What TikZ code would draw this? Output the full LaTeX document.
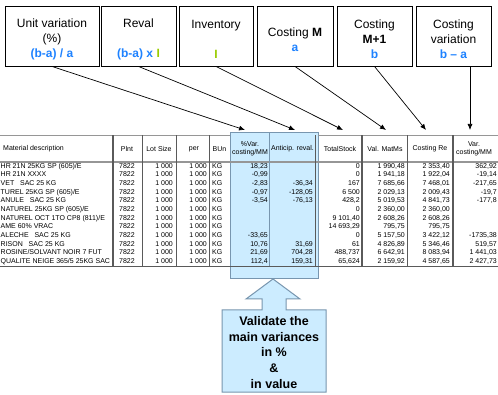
\documentclass[tikz,border=0pt]{standalone}
\usepackage{fontspec}
\setmainfont{Liberation Sans}
\usetikzlibrary{arrows.meta}
\definecolor{myblue}{RGB}{30,130,255}
\definecolor{mygreen}{RGB}{153,204,0}
\definecolor{hlfill}{RGB}{204,236,255}
\definecolor{hlborder}{RGB}{120,150,175}
\definecolor{gridgray}{RGB}{90,90,90}
\definecolor{rulegray}{RGB}{150,150,150}
\tikzset{
  topbox/.style={draw=black, line width=0.9pt, inner sep=0pt, minimum height=60pt},
  toplabel/.style={inner sep=0pt, align=center, yshift=-3.5pt,
    font=\fontsize{12}{15}\selectfont},
  conn/.style={draw=black, line width=0.7pt, -{Latex[length=6pt,width=5pt]}},
  tcell/.style={inner sep=0pt, font=\fontsize{7}{8}\selectfont, text height=5pt, text depth=1.5pt},
  tl/.style={tcell, anchor=west},
  tr/.style={tcell, anchor=east},
  tc/.style={tcell, anchor=center},
  hcell/.style={inner sep=0pt, font=\fontsize{7}{8}\selectfont, align=center},
  thin col/.style={draw=gridgray, line width=0.7pt},
  thick col/.style={draw=gridgray, line width=1.4pt},
  callout/.style={fill=hlfill, draw=hlborder, line width=1pt},
}
\newcommand\trow[8]{%
  \pgfmathsetmacro\ry{166.4+8.67*(#1-1)}
  \node[tl] (desc#1) at (0.5,\ry) {#2};
  \node[tc] (pl#1) at (127,\ry) {7822};
  \node[tr] (lot#1) at (173,\ry) {1 000};
  \node[tr] (per#1) at (207,\ry) {1 000};
  \node[tl] (bu#1) at (212,\ry) {KG};
  \node[tr] (pv#1) at (268,\ry) {#7};
  \node[tr] (ar#1) at (313,\ry) {#8};
  \node[tr] (ts#1) at (360,\ry) {#3};
  \node[tr] (vm#1) at (405,\ry) {#4};
  \node[tr] (cr#1) at (450,\ry) {#5};
  \node[tr] (vc#1) at (497,\ry) {#6};
}
\begin{document}
\begin{tikzpicture}[x=1pt,y=-1pt]
\useasboundingbox (0,0) rectangle (498,395);
\fill[white] (0,0) rectangle (498,395);

% top boxes
\node[topbox, minimum width=94pt] (b1) at (52,36) {};
\node[topbox, minimum width=75pt] (b2) at (138.5,36) {};
\node[topbox, minimum width=74pt] (b3) at (216,36) {};
\node[topbox, minimum width=76pt] (b4) at (295,36) {};
\node[topbox, minimum width=75pt] (b5) at (374.5,36) {};
\node[topbox, minimum width=75pt] (b6) at (453.5,36) {};
\node[toplabel] (l1) at (b1.center)
  {Unit variation\\(\%)\\\textcolor{myblue}{\textbf{(b-a) / a}}};
\node[toplabel] (l2) at (b2.center)
  {Reval\\\mbox{}\\\textbf{\textcolor{myblue}{(b-a) x} \textcolor{mygreen}{I}}};
\node[toplabel] (l3) at (b3.center)
  {Inventory\\\mbox{}\\\textcolor{mygreen}{\textbf{I}}};
\node[toplabel] (l4) at (b4.center)
  {Costing \textbf{M}\\\textcolor{myblue}{\textbf{a}}};
\node[toplabel] (l5) at (b5.center)
  {Costing\\\textbf{M+1}\\\textcolor{myblue}{\textbf{b}}};
\node[toplabel] (l6) at (b6.center)
  {Costing\\variation\\\textcolor{myblue}{\textbf{b – a}}};

% arrow targets
\coordinate (t1) at (245,130);
\coordinate (t2) at (295,130);
\coordinate (t3) at (343,130);
\coordinate (t4) at (386,130);
\coordinate (t5) at (426,130);
\coordinate (t6) at (470,130);

% highlighted columns
\draw[fill=hlfill, draw=hlborder, line width=0.9pt] (230,132.5) rectangle (318,278);

% table rules
\draw[draw=rulegray, line width=0.8pt] (0,135.5) -- (230,135.5);
\draw[draw=rulegray, line width=0.8pt] (318,135.5) -- (498,135.5);
\draw[draw=rulegray, line width=1.8pt] (0,161.8) -- (498,161.8);
\draw[draw=gridgray, line width=0.9pt] (0,266) -- (498,266);
\draw[thick col] (113,135.5) -- (113,266);
\draw[thin col] (142,135.5) -- (142,266);
\draw[thin col] (176,135.5) -- (176,266);
\draw[thin col] (209,135.5) -- (209,266);
\draw[draw=hlborder, line width=0.8pt] (269.5,132.5) -- (269.5,266);
\draw[thin col] (315,135.5) -- (315,266);
\draw[thick col] (362,135.5) -- (362,266);
\draw[thin col] (407,135.5) -- (407,266);
\draw[thick col] (453,135.5) -- (453,266);

% header
\node[tl] (hmat) at (3,149) {Material description};
\node[hcell] (hpl) at (127,149) {Plnt};
\node[hcell] (hlot) at (159,149) {Lot Size};
\node[hcell] (hper) at (194,149) {per};
\node[hcell] (hbu) at (219.5,149) {BUn};
\node[hcell] (hpv) at (250,149) {\%Var.\\costing/MM};
\node[hcell] (har) at (292.5,149) {Anticip. reval.};
\node[hcell] (hts) at (340,149) {TotalStock};
\node[hcell] (hvm) at (385,149) {Val. MatMs};
\node[hcell] (hcr) at (430,149) {Costing Re};
\node[hcell] (hvc) at (474,149) {Var.\\costing/MM};

% rows
\trow{1}{HR 21N 25KG SP (605)/E}{0}{1 990,48}{2 353,40}{362,92}{18,23}{}
\trow{2}{HR 21N XXXX}{0}{1 941,18}{1 922,04}{-19,14}{-0,99}{}
\trow{3}{VET~~ SAC 25 KG}{167}{7 685,66}{7 468,01}{-217,65}{-2,83}{-36,34}
\trow{4}{TUREL 25KG SP (605)/E}{6 500}{2 029,13}{2 009,43}{-19,7}{-0,97}{-128,05}
\trow{5}{ANULE~~ SAC 25 KG}{428,2}{5 019,53}{4 841,73}{-177,8}{-3,54}{-76,13}
\trow{6}{NATUREL 25KG SP (605)/E}{0}{2 360,00}{2 360,00}{}{}{}
\trow{7}{NATUREL OCT 1TO CP8 (811)/E}{9 101,40}{2 608,26}{2 608,26}{}{}{}
\trow{8}{AME 60\% VRAC}{14 693,29}{795,75}{795,75}{}{}{}
\trow{9}{ALECHE~~ SAC 25 KG}{0}{5 157,50}{3 422,12}{-1735,38}{-33,65}{}
\trow{10}{RISON~~ SAC 25 KG}{61}{4 826,89}{5 346,46}{519,57}{10,76}{31,69}
\trow{11}{ROSINE/SOLVANT NOIR 7 FUT}{488,737}{6 642,91}{8 083,94}{1 441,03}{21,69}{704,28}
\trow{12}{QUALITE NEIGE 365/5 25KG SAC}{65,624}{2 159,92}{4 587,65}{2 427,73}{112,4}{159,31}

% connectors
\draw[conn] (b1.south) -- (t1);
\draw[conn] (b2.south) -- (t2);
\draw[conn] (b3.south) -- (t3);
\draw[conn] (b4.south) -- (t4);
\draw[conn] (b5.south) -- (t5);
\draw[conn] (b6.south -| t6) -- (t6);

% callout arrow
\draw[callout] (273,279) -- (300,299) -- (286,299) -- (286,310) -- (326,310)
  -- (326,392) -- (222,392) -- (222,310) -- (262,310) -- (262,299)
  -- (246,299) -- cycle;
\node[align=center, inner sep=0pt, font=\fontsize{12.5}{15.6}\selectfont\bfseries]
  (val) at (274,352.5) {Validate the\\main variances\\in \%\\\&\\in value};
\end{tikzpicture}
\end{document}
